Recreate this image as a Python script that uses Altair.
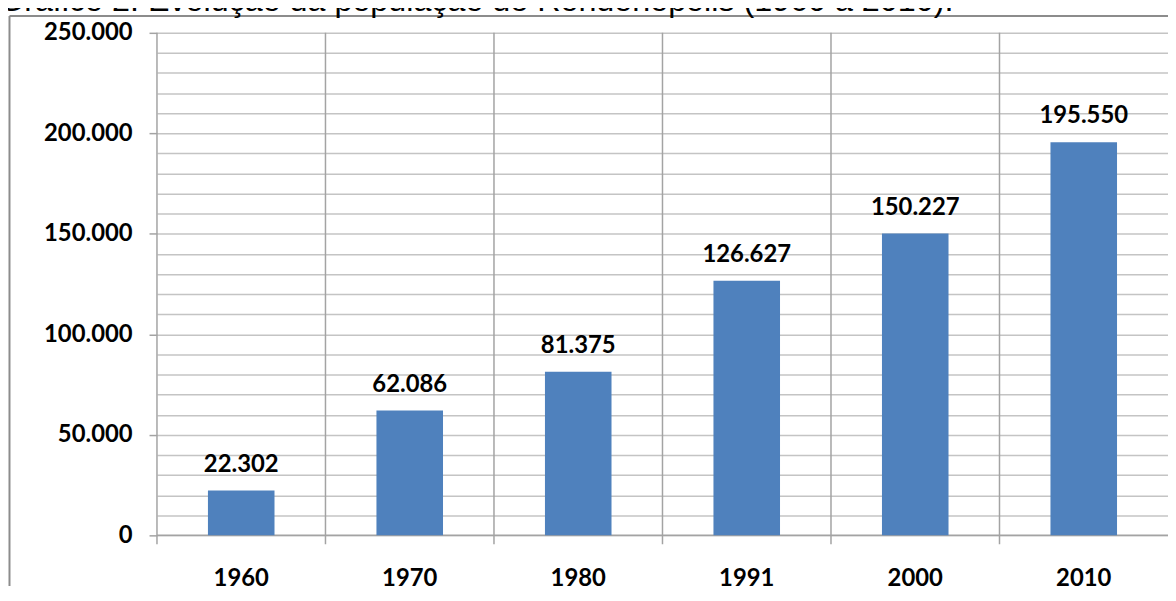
import altair as alt
import pandas as pd

title_text = "Gráfico 2: Evolução da população de Rondonópolis (1960 a 2010)."
years = ["1960", "1970", "1980", "1991", "2000", "2010"]
population = [22302, 62086, 81375, 126627, 150227, 195550]
y_tick_values = [0, 10000, 20000, 30000, 40000, 50000, 60000, 70000, 80000, 90000,
                 100000, 110000, 120000, 130000, 140000, 150000, 160000, 170000,
                 180000, 190000, 200000, 210000, 220000, 230000, 240000, 250000]
y_domain = [0, 250000]

df = pd.DataFrame({"year": years, "pop": population})
one = pd.DataFrame({"t": [title_text]})

W = 1018
H = 506
LINE = "#a3a3a3"
GRID = "#c4c4c4"

label_font = dict(labelFont="Lato", labelFontWeight="bold", labelFontSize=24, labelColor="#000000")

x_bar = alt.X(
    "year:N", sort=years, title=None,
    scale=alt.Scale(paddingInner=0.605, paddingOuter=0.3025),
    axis=alt.Axis(labelAngle=0, ticks=False, labelPadding=31, grid=False,
                  domain=False, **label_font),
)
x_text = alt.X(
    "year:N", sort=years, title=None,
    scale=alt.Scale(paddingInner=0.605, paddingOuter=0.3025),
    axis=None,
)
y_enc = alt.Y(
    "pop:Q", title=None,
    scale=alt.Scale(domain=y_domain, nice=False),
    axis=alt.Axis(
        values=y_tick_values,
        labelExpr="datum.value % 50000 === 0 ? replace(format(datum.value, ','), ',', '.') : ''",
        grid=True, gridColor=GRID, gridWidth=1.5,
        domain=False, tickSize=8, tickColor=LINE, tickWidth=1.5,
        tickOpacity={"condition": {"test": "datum.value % 50000 === 0", "value": 1}, "value": 0},
        labelPadding=17, **label_font,
    ),
)

separators = alt.Chart(df).mark_rule(color=LINE, strokeWidth=1.5).encode(
    x=alt.X("year:N", sort=years, bandPosition=0,
            scale=alt.Scale(paddingInner=0, paddingOuter=0), axis=None),
    y=alt.value(0),
    y2=alt.value(H + 9),
)

baseline = alt.Chart(one).mark_rule(color=LINE, strokeWidth=1.5).encode(
    x=alt.value(0), x2=alt.value(W), y=alt.value(H)
)

bars = alt.Chart(df).mark_bar(color="#4f81bd").encode(x=x_bar, y=y_enc)

labels = alt.Chart(df).transform_calculate(
    label="replace(format(datum.pop, ','), ',', '.')"
).mark_text(
    dy=-19, baseline="alphabetic", font="Lato", fontWeight="bold", fontSize=24, color="#000000"
).encode(x=x_text, y=y_enc, text="label:N")

border_top = alt.Chart(one).mark_rule(color="#8c8c8c", strokeWidth=2).encode(
    x=alt.value(-148.5), x2=alt.value(W), y=alt.value(-17)
)
border_left = alt.Chart(one).mark_rule(color="#8c8c8c", strokeWidth=2).encode(
    x=alt.value(-148.5), y=alt.value(-17), y2=alt.value(H + 51)
)

title = alt.Chart(one).mark_text(
    align="left", baseline="alphabetic", font="Liberation Sans", fontSize=32.5, color="#000000"
).encode(x=alt.value(-159), y=alt.value(-21.5), text="t:N")

chart = alt.layer(
    separators, baseline, bars, labels, border_top, border_left, title
).resolve_scale(x="independent").properties(
    width=W, height=H,
    autosize=alt.AutoSizeParams(type="none"),
    padding={"left": 150, "top": 23, "right": 0, "bottom": 51},
    background="white",
).configure_view(stroke="transparent", strokeWidth=0)

chart.save("out.html", embed_options={"renderer": "svg", "actions": False})
